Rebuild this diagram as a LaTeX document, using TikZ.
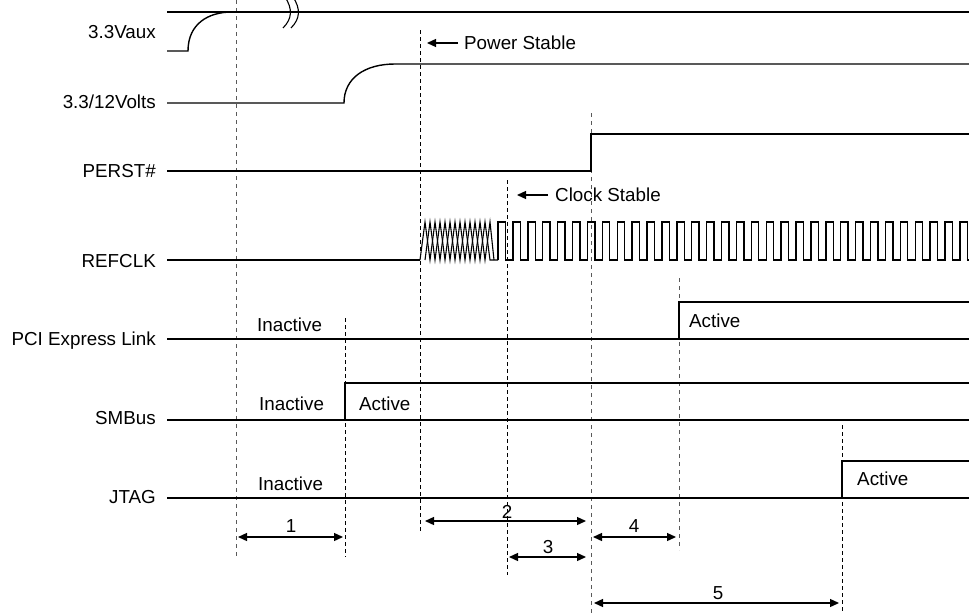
\documentclass[tikz,border=0pt]{standalone}
\usepackage{fontspec}
\setmainfont{Liberation Sans}
\usetikzlibrary{arrows.meta}
\begin{document}
\begin{tikzpicture}[x=1pt,y=-1pt,
  sig/.style={line width=1.4pt,line join=miter},
  dashk/.style={line width=0.95pt,dash pattern=on 4pt off 3pt,black},
  dashg/.style={line width=0.75pt,dash pattern=on 4pt off 4pt,black!65},
  dim/.style={line width=1.3pt,{Triangle[length=9pt,width=8pt]}-{Triangle[length=9pt,width=8pt]}},
  lab/.style={anchor=base east,inner sep=0pt,font=\fontsize{18.8}{22}\selectfont},
  txt/.style={anchor=west,inner sep=0pt,font=\fontsize{18.8}{22}\selectfont},
  num/.style={inner sep=0pt,font=\fontsize{18.8}{22}\selectfont}]
\useasboundingbox (0,0) rectangle (969,613);
% dashed reference lines
\coordinate (d1t) at (236,0);   \coordinate (d1b) at (236,557);
\coordinate (d2t) at (345,318); \coordinate (d2b) at (345,557);
\coordinate (d3t) at (420,30);  \coordinate (d3b) at (420,533);
\coordinate (d4t) at (507,180); \coordinate (d4b) at (507,575);
\coordinate (d5t) at (591,113); \coordinate (d5b) at (591,613);
\coordinate (d6t) at (679,278); \coordinate (d6b) at (679,550);
\coordinate (d7t) at (842,425); \coordinate (d7b) at (842,613);
\draw[dashg] (d1t) -- (d1b);
\draw[dashk] (d2t) -- (d2b);
\draw[dashk] (d3t) -- (d3b);
\draw[dashk] (d4t) -- (d4b);
\draw[dashg] (d5t) -- (d5b);
\draw[dashg] (d6t) -- (d6b);
\draw[dashk] (d7t) -- (d7b);
% signal labels
\node[lab] (l1) at (156,38.6) {3.3Vaux};
\node[lab] (l2) at (156,108.6) {3.3/12Volts};
\node[lab] (l3) at (156,177.6) {PERST\#};
\node[lab] (l4) at (156,267.6) {REFCLK};
\node[lab] (l5) at (156,345.6) {PCI Express Link};
\node[lab] (l6) at (156,424.6) {SMBus};
\node[lab] (l7) at (156,503.6) {JTAG};
% 3.3Vaux
\draw[sig] (167,12) -- (969,12);
\draw[sig] (167,51) -- (188,51) .. controls (188,24) and (208,12) .. (232,12);
\draw[line width=1.1pt] (285,-3) .. controls (293,9) and (292,19) .. (283,28);
\draw[line width=1.1pt] (293,-3) .. controls (301,9) and (300,19) .. (291,28);
% 3.3/12Volts
\draw[sig] (167,103) -- (344,103) .. controls (344,78) and (365,64) .. (395,64) -- (969,64);
% PERST#
\draw[sig] (167,171) -- (591,171) -- (591,134) -- (969,134);
% REFCLK
\draw[sig] (167,260) -- (420,260);
\draw[line width=1.1pt] (420,260) -- (425,222)
  \foreach \k in {0,...,5}{ -- ({430+10*\k},260) -- ({435+10*\k},222)} -- (490,260) -- (498,260);
\draw[line width=1.1pt] (425,260) -- (430,222)
  \foreach \k in {0,...,5}{ -- ({435+10*\k},260) -- ({440+10*\k},222)} -- (494,260);
\begin{scope}
\clip (490,200) rectangle (969.5,280);
\draw[sig] (498,260)
  \foreach \k in {0,...,31}{ -- ({498+14.9*\k},222) -- ({505.45+14.9*\k},222) -- ({505.45+14.9*\k},260) -- ({512.9+14.9*\k},260)};
\end{scope}
% PCI Express Link
\draw[sig] (167,339) -- (969,339);
\draw[sig] (679,339) -- (679,302) -- (969,302);
% SMBus
\draw[sig] (167,420) -- (969,420);
\draw[sig] (345,420) -- (345,383) -- (969,383);
% JTAG
\draw[sig] (167,498) -- (969,498);
\draw[sig] (842,498) -- (842,461) -- (969,461);
% state texts
\node[txt] (i1) at (257,325) {Inactive};
\node[txt] (a1) at (689,321) {Active};
\node[txt] (i2) at (259,404) {Inactive};
\node[txt] (a2) at (359,404) {Active};
\node[txt] (i3) at (258,484) {Inactive};
\node[txt] (a3) at (857,479) {Active};
% markers
\node[txt] (ps) at (464,43) {Power Stable};
\coordinate (psa) at (427,43);
\draw[line width=1.3pt,-{Triangle[length=9pt,width=8pt]}] (ps.west) ++(-6,0) -- (psa);
\node[txt] (cs) at (555,195) {Clock Stable};
\coordinate (csa) at (517,195);
\draw[line width=1.3pt,-{Triangle[length=9pt,width=8pt]}] (cs.west) ++(-7,0) -- (csa);
% interval arrows
\coordinate (a1l) at (238,537); \coordinate (a1r) at (343,537);
\coordinate (a2l) at (425,521); \coordinate (a2r) at (586,521);
\coordinate (a3l) at (509,557); \coordinate (a3r) at (586,557);
\coordinate (a4l) at (593,537); \coordinate (a4r) at (676,537);
\coordinate (a5l) at (594,603); \coordinate (a5r) at (839,603);
\draw[dim] (a1l) -- (a1r);
\draw[dim] (a2l) -- (a2r);
\draw[dim] (a3l) -- (a3r);
\draw[dim] (a4l) -- (a4r);
\draw[dim] (a5l) -- (a5r);
\node[num] (n1) at (291,526) {1};
\node[num] (n2) at (507,512) {2};
\node[num] (n3) at (548,547) {3};
\node[num] (n4) at (634,526) {4};
\node[num] (n5) at (718,593) {5};
\end{tikzpicture}
\end{document}
